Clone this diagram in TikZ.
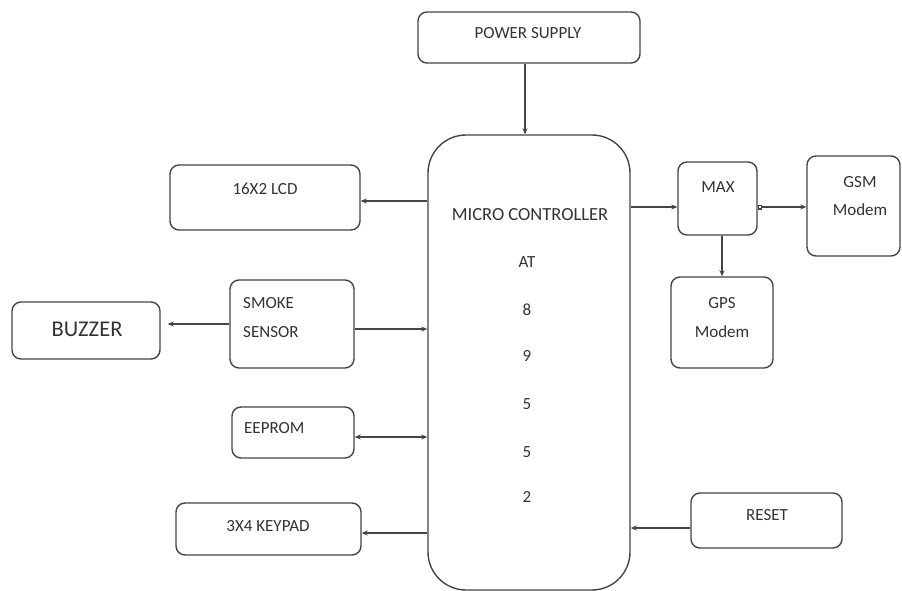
\documentclass[tikz,border=0pt]{standalone}
\usepackage{fontspec}
\setmainfont{Carlito}
\usetikzlibrary{arrows.meta}
\definecolor{ln}{HTML}{454545}
\definecolor{tx}{HTML}{333333}
\begin{document}
\begin{tikzpicture}[x=1pt,y=-1pt,
  box/.style={draw=ln,line width=1.4pt,rounded corners=9pt,fill=white,inner sep=0pt},
  lbl/.style={text=tx,font=\fontsize{17}{19}\selectfont,inner sep=0pt},
  arr/.style={draw=ln,line width=1.2pt,-{Stealth[length=6pt,width=5pt]}},
  darr/.style={draw=ln,line width=1.2pt,{Stealth[length=6pt,width=5pt]}-{Stealth[length=6pt,width=5pt]}}]
\useasboundingbox[fill=white] (0,0) rectangle (902,591);
% boxes
\node[box,minimum width=222pt,minimum height=51pt] (ps) at (529,37.5) {};
\node[box,rounded corners=38pt,minimum width=202pt,minimum height=455pt] (mc) at (529,362.5) {};
\node[box,minimum width=190pt,minimum height=65pt] (lcd) at (265,197.5) {};
\node[box,minimum width=124pt,minimum height=88pt] (smoke) at (292,324) {};
\node[box,minimum width=148pt,minimum height=57pt] (buz) at (86,330.5) {};
\node[box,minimum width=122pt,minimum height=51pt] (eep) at (293,432.5) {};
\node[box,minimum width=185pt,minimum height=52pt] (key) at (268.5,529) {};
\node[box,minimum width=151pt,minimum height=55pt] (rst) at (766.5,520.5) {};
\node[box,minimum width=79pt,minimum height=73pt] (max) at (717.5,198.5) {};
\node[box,minimum width=93pt,minimum height=100pt] (gsm) at (853.5,206) {};
\node[box,minimum width=102pt,minimum height=91pt] (gps) at (722,322.5) {};
% texts
\node[lbl] (tps) at (528,33) {POWER SUPPLY};
\node[lbl] (tlcd) at (265,189) {16X2 LCD};
\node[lbl,anchor=west] (tsm1) at (243,303) {SMOKE};
\node[lbl,anchor=west] (tsm2) at (243,332) {SENSOR};
\node[lbl,font=\fontsize{22.5}{25}\selectfont] (tbuz) at (87,329) {BUZZER};
\node[lbl,anchor=west] (teep) at (244,428) {EEPROM};
\node[lbl] (tkey) at (268,526) {3X4 KEYPAD};
\node[lbl] (trst) at (767,515) {RESET};
\node[lbl] (tmax) at (718,187) {MAX};
\node[lbl] (tgsm1) at (860,182) {GSM};
\node[lbl] (tgsm2) at (860,210) {Modem};
\node[lbl] (tgps1) at (722,303) {GPS};
\node[lbl] (tgps2) at (722,332) {Modem};
\node[lbl,font=\fontsize{18.5}{20}\selectfont] (tmc1) at (530,215) {MICRO CONTROLLER};
\node[lbl] (tmc2) at (527,262) {AT};
\node[lbl] (tmc3) at (527,310) {8};
\node[lbl] (tmc4) at (527,356) {9};
\node[lbl] (tmc5) at (527,404) {5};
\node[lbl] (tmc6) at (527,452) {5};
\node[lbl] (tmc7) at (527,497) {2};
% connectors
\draw[arr] ([xshift=-4pt]ps.south) -- ([xshift=-4pt]mc.north);
\draw[arr] ([yshift=-3.5pt]lcd.east -| mc.west) -- ([yshift=-3.5pt]lcd.east);
\draw[arr] ([yshift=-5pt]smoke.east) -- ([yshift=-5pt]smoke.east -| mc.west);
\draw[arr,shorten >=7pt] (smoke.west) -- (smoke.west -| buz.east);
\draw[darr] ([yshift=-4.5pt]eep.east) -- ([yshift=-4.5pt]eep.east -| mc.west);
\draw[arr] ([yshift=-4pt]key.east -| mc.west) -- ([yshift=-4pt]key.east);
\draw[arr] ([yshift=-7.5pt]rst.west) -- ([yshift=-7.5pt]rst.west -| mc.east);
\draw[arr] ([yshift=-8.5pt]max.west -| mc.east) -- ([yshift=-8.5pt]max.west);
\draw[draw=ln,line width=1.2pt,{Square[open,length=4pt,width=5pt]}-{Stealth[length=6pt,width=5pt]}] ([yshift=-8.5pt]max.east) -- ([yshift=-8.5pt]max.east -| gsm.west);
\draw[arr] (gps.north |- max.south) -- (gps.north);
\end{tikzpicture}
\end{document}
